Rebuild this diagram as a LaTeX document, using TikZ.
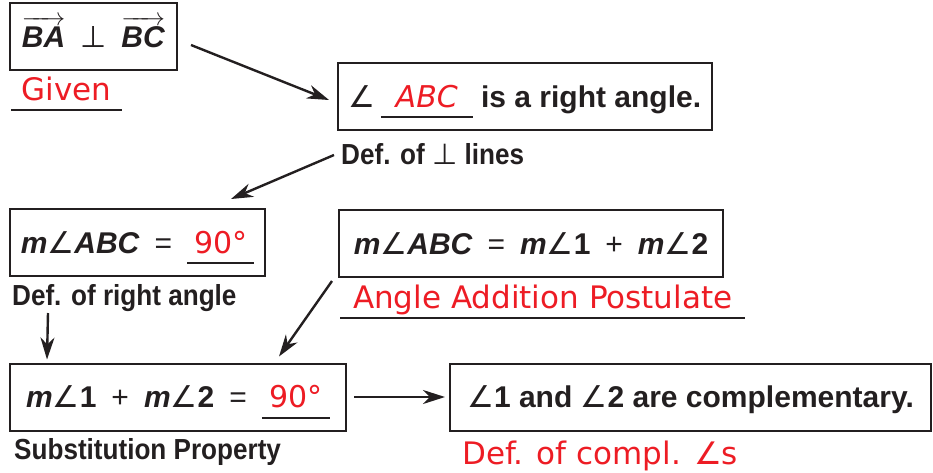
\documentclass[tikz,border=0pt]{standalone}
\usepackage{fontspec}
\setmainfont{Liberation Sans}
\newfontfamily\symfont{DejaVu Sans}
\newfontfamily\redfont{DejaVu Sans}
\newfontfamily\condfont[FakeStretch=0.9]{Liberation Sans}
\usepackage{xcolor}
\definecolor{cInk}{HTML}{231F20}
\definecolor{cRed}{HTML}{ED1C24}
\usetikzlibrary{arrows.meta}
\newcommand\ang{{\symfont ∠}}
\newcommand\perpsym{{\symfont ⊥}}
\newcommand\mi{\textbf{\textit{m}}}
\newcommand\op[1]{\hspace{0.5em}#1\hspace{0.5em}}
\newcommand\fillin[2]{\rlap{\color{cInk}\rule[-11pt]{#1}{2pt}}\makebox[#1]{\color{cRed}\redfont #2}}
\newcommand\vecbi[1]{$\overrightarrow{\hbox{\raisebox{0pt}[23pt]{\textbf{\textit{#1}}}}}$}
\tikzset{
  stmt-box/.style={draw=cInk,line width=2pt,minimum height=67pt,inner sep=0pt,
    text height=21pt,text depth=0pt,text=cInk,font=\fontsize{30}{36}\selectfont},
  reason-red/.style={text=cRed,font=\redfont\fontsize{31}{37}\selectfont,
    inner xsep=0pt,inner ysep=9pt,text depth=0pt,anchor=south west},
  reason-bold/.style={text=cInk,font=\condfont\bfseries\fontsize{29}{34}\selectfont,
    inner sep=0pt,anchor=base west},
  arrow/.style={-{Stealth[length=22pt,width=14pt,inset=7pt]},line width=2.4pt,draw=cInk},
  blank-line/.style={line width=2pt,draw=cInk},
}
\begin{document}
\begin{tikzpicture}[x=1pt,y=-1pt]
  \useasboundingbox (0,0) rectangle (933,472);
  % statements
  \node[stmt-box,minimum width=167pt] (s1) at (93.5,36.5)
    {\vecbi{BA}\op{\perpsym}\vecbi{BC}};
  \node[stmt-box,minimum width=374pt] (s2) at (525,96.5)
    {\ang\,\fillin{92pt}{\textit{ABC}}\ \textbf{is a right angle.}};
  \node[stmt-box,minimum width=255pt] (s3) at (137.5,242.5)
    {\mi\ang\textbf{\textit{ABC}}\op{=}\fillin{67pt}{90°}};
  \node[stmt-box,minimum width=384pt] (s4) at (531,243.5)
    {\mi\ang\textbf{\textit{ABC}}\op{=}\mi\ang\textbf{1}\op{+}\mi\ang\textbf{2}};
  \node[stmt-box,minimum width=336pt] (s5) at (178,397)
    {\mi\ang\textbf{1}\op{+}\mi\ang\textbf{2}\op{=}\fillin{68pt}{90°}};
  \node[stmt-box,minimum width=481pt] (s6) at (690.5,397)
    {\ang\textbf{1 and }\ang\textbf{2 are complementary.}};
  % reasons
  \node[reason-red,minimum width=111pt] (r1) at (11,110) {Given};
  \node[reason-bold] (r2) at (341,164) {Def. of {\symfont\mdseries ⊥} lines};
  \node[reason-bold] (r3) at (12,305) {Def. of right angle};
  \node[reason-red,minimum width=405pt] (r4) at (340,318) {Angle Addition Postulate};
  \node[reason-bold] (r5) at (14,459) {Substitution Property};
  \node[reason-red,anchor=base west,inner ysep=0pt] (r6) at (462,464) {Def. of compl. \ang s};
  \draw[blank-line] (r1.south west) -- (r1.south east);
  \draw[blank-line] (r4.south west) -- (r4.south east);
  % flow
  \draw[arrow] ([xshift=13pt,yshift=-8.5pt]s1.east) -- ([xshift=-8pt,yshift=-3.5pt]s2.west);
  \draw[arrow] ([xshift=-7pt,yshift=9pt]r2.base west) -- ([xshift=-35pt,yshift=9pt]s3.north east);
  \draw[arrow] ([xshift=36pt,yshift=-8pt]r3.base west) -- ([xshift=38pt,yshift=3pt]s5.north west);
  \draw[arrow] ([xshift=-6pt,yshift=-3pt]s4.south west) -- ([xshift=-68pt,yshift=6pt]s5.north east);
  \draw[arrow] ([xshift=7pt]s5.east) -- ([xshift=-4pt]s6.west);
\end{tikzpicture}
\end{document}
